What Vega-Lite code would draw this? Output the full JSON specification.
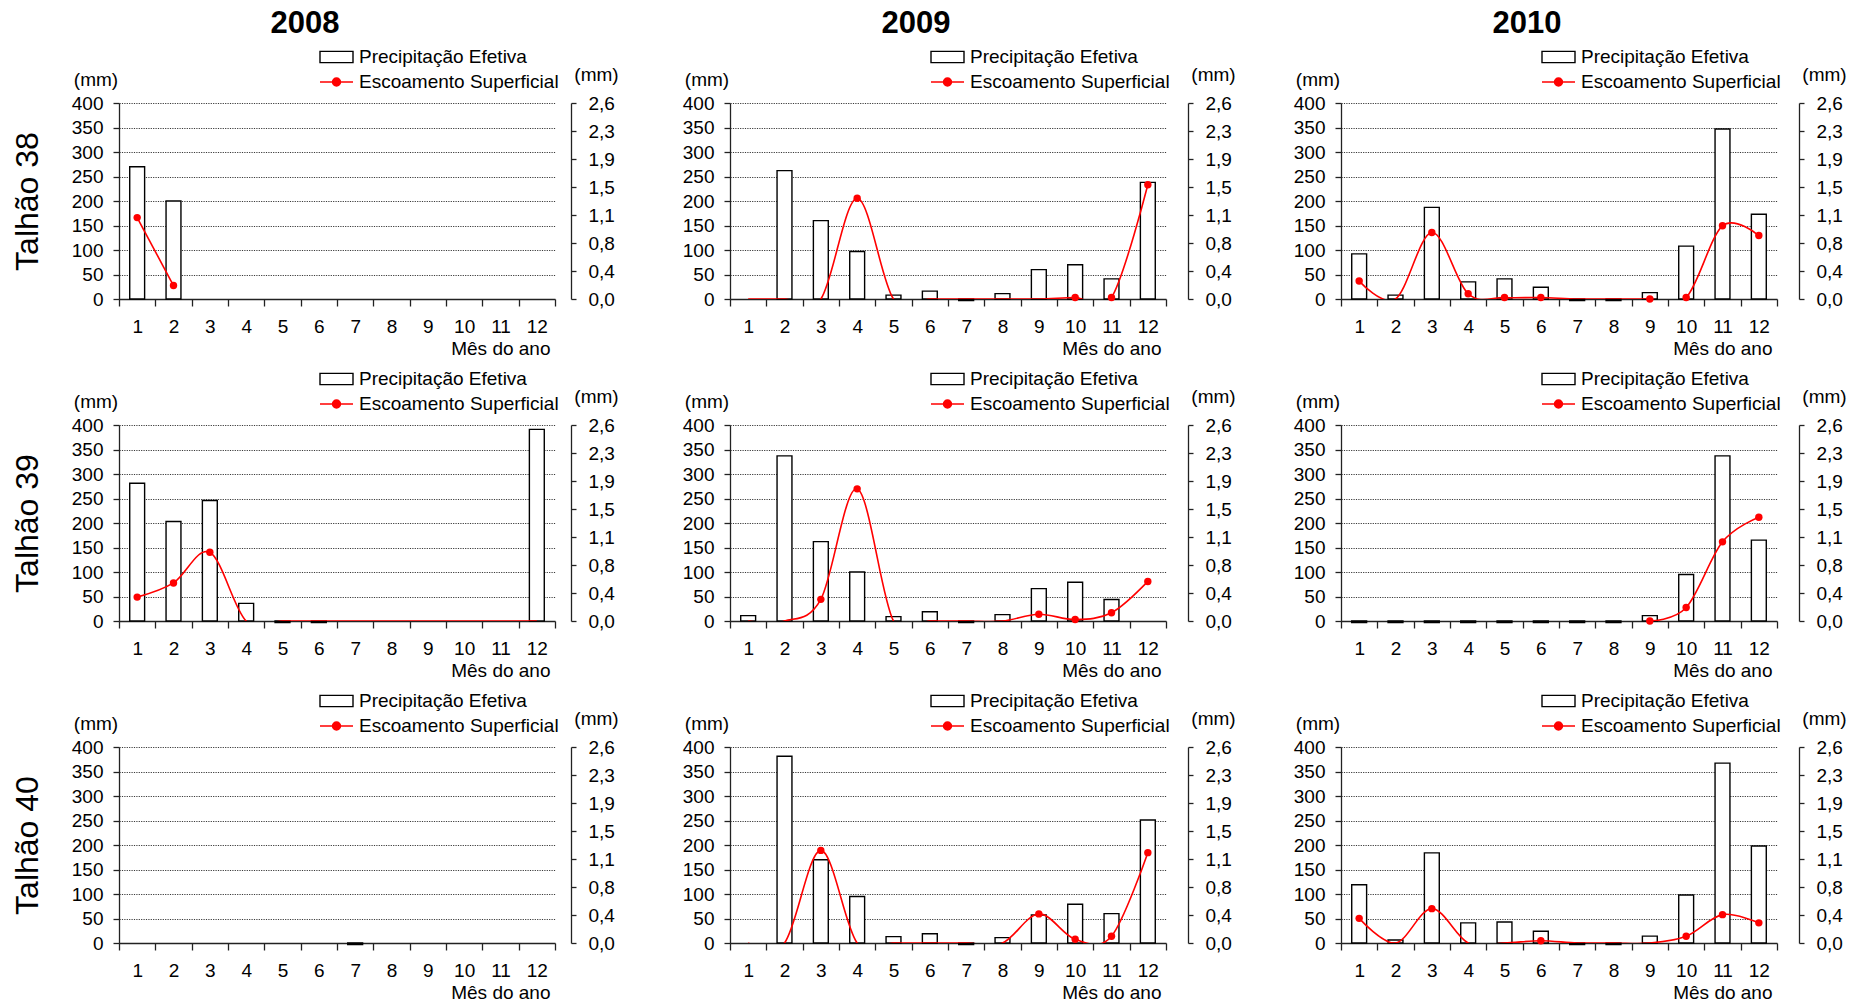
{
  "$schema": "https://vega.github.io/schema/vega-lite/v6.json",
  "background": "white",
  "padding": {"left": 10, "top": 7, "right": 5, "bottom": 5},
  "config": {
    "font": "Liberation Sans",
    "view": {"stroke": null},
    "axis": {
      "labelFontSize": 19, "titleFontSize": 19, "titleFontWeight": "normal",
      "labelColor": "black", "titleColor": "black",
      "domainColor": "#222", "tickColor": "#222", "domainWidth": 1.3, "tickWidth": 1.3,
      "grid": false, "gridDash": [1.2, 1.2], "gridColor": "#3a3a3a", "gridWidth": 1
    },
    "axisX": {
      "labelAngle": 0, "labelPadding": 11, "tickSize": 7, "tickBand": "extent",
      "titleAlign": "right", "titleBaseline": "middle", "titleX": 431, "titleY": 49
    },
    "axisLeft": {"tickSize": 6, "labelPadding": 10},
    "axisRight": {"tickSize": 5, "labelPadding": 12, "titleAlign": "center", "titleBaseline": "middle", "titleX": 25, "titleY": -29},
    "legend": {"padding": 0, "labelFontSize": 19, "labelColor": "black", "labelOffset": 5, "labelLimit": 400, "symbolSize": 1089}
  },
  "datasets": {
    "medicoes": [
      {"talhao": "Talhão 38", "ano": 2008, "mes": 1, "precip": 270, "esc": 1.09},
      {"talhao": "Talhão 38", "ano": 2008, "mes": 2, "precip": 200, "esc": 0.18},
      {"talhao": "Talhão 38", "ano": 2009, "mes": 1, "precip": null, "esc": 0},
      {"talhao": "Talhão 38", "ano": 2009, "mes": 2, "precip": 262, "esc": 0},
      {"talhao": "Talhão 38", "ano": 2009, "mes": 3, "precip": 160, "esc": 0},
      {"talhao": "Talhão 38", "ano": 2009, "mes": 4, "precip": 97, "esc": 1.35},
      {"talhao": "Talhão 38", "ano": 2009, "mes": 5, "precip": 8, "esc": 0},
      {"talhao": "Talhão 38", "ano": 2009, "mes": 6, "precip": 16, "esc": 0},
      {"talhao": "Talhão 38", "ano": 2009, "mes": 7, "precip": -3, "esc": 0},
      {"talhao": "Talhão 38", "ano": 2009, "mes": 8, "precip": 11, "esc": 0},
      {"talhao": "Talhão 38", "ano": 2009, "mes": 9, "precip": 60, "esc": 0},
      {"talhao": "Talhão 38", "ano": 2009, "mes": 10, "precip": 70, "esc": 0.02},
      {"talhao": "Talhão 38", "ano": 2009, "mes": 11, "precip": 41, "esc": 0.02},
      {"talhao": "Talhão 38", "ano": 2009, "mes": 12, "precip": 238, "esc": 1.53},
      {"talhao": "Talhão 38", "ano": 2010, "mes": 1, "precip": 92, "esc": 0.24},
      {"talhao": "Talhão 38", "ano": 2010, "mes": 2, "precip": 8, "esc": 0},
      {"talhao": "Talhão 38", "ano": 2010, "mes": 3, "precip": 187, "esc": 0.89},
      {"talhao": "Talhão 38", "ano": 2010, "mes": 4, "precip": 35, "esc": 0.07},
      {"talhao": "Talhão 38", "ano": 2010, "mes": 5, "precip": 41, "esc": 0.02},
      {"talhao": "Talhão 38", "ano": 2010, "mes": 6, "precip": 24, "esc": 0.02},
      {"talhao": "Talhão 38", "ano": 2010, "mes": 7, "precip": -3, "esc": 0},
      {"talhao": "Talhão 38", "ano": 2010, "mes": 8, "precip": -3, "esc": 0},
      {"talhao": "Talhão 38", "ano": 2010, "mes": 9, "precip": 13, "esc": 0},
      {"talhao": "Talhão 38", "ano": 2010, "mes": 10, "precip": 108, "esc": 0.02},
      {"talhao": "Talhão 38", "ano": 2010, "mes": 11, "precip": 347, "esc": 0.98},
      {"talhao": "Talhão 38", "ano": 2010, "mes": 12, "precip": 173, "esc": 0.85},
      {"talhao": "Talhão 39", "ano": 2008, "mes": 1, "precip": 281, "esc": 0.32},
      {"talhao": "Talhão 39", "ano": 2008, "mes": 2, "precip": 203, "esc": 0.51},
      {"talhao": "Talhão 39", "ano": 2008, "mes": 3, "precip": 246, "esc": 0.92},
      {"talhao": "Talhão 39", "ano": 2008, "mes": 4, "precip": 36, "esc": 0},
      {"talhao": "Talhão 39", "ano": 2008, "mes": 5, "precip": -3, "esc": 0},
      {"talhao": "Talhão 39", "ano": 2008, "mes": 6, "precip": -3, "esc": 0},
      {"talhao": "Talhão 39", "ano": 2008, "mes": 7, "precip": null, "esc": 0},
      {"talhao": "Talhão 39", "ano": 2008, "mes": 8, "precip": null, "esc": 0},
      {"talhao": "Talhão 39", "ano": 2008, "mes": 9, "precip": null, "esc": 0},
      {"talhao": "Talhão 39", "ano": 2008, "mes": 10, "precip": null, "esc": 0},
      {"talhao": "Talhão 39", "ano": 2008, "mes": 11, "precip": null, "esc": 0},
      {"talhao": "Talhão 39", "ano": 2008, "mes": 12, "precip": 391, "esc": 0},
      {"talhao": "Talhão 39", "ano": 2009, "mes": 1, "precip": 11, "esc": 0},
      {"talhao": "Talhão 39", "ano": 2009, "mes": 2, "precip": 337, "esc": 0},
      {"talhao": "Talhão 39", "ano": 2009, "mes": 3, "precip": 162, "esc": 0.29},
      {"talhao": "Talhão 39", "ano": 2009, "mes": 4, "precip": 100, "esc": 1.77},
      {"talhao": "Talhão 39", "ano": 2009, "mes": 5, "precip": 9, "esc": 0},
      {"talhao": "Talhão 39", "ano": 2009, "mes": 6, "precip": 19, "esc": 0},
      {"talhao": "Talhão 39", "ano": 2009, "mes": 7, "precip": -3, "esc": 0},
      {"talhao": "Talhão 39", "ano": 2009, "mes": 8, "precip": 13, "esc": 0},
      {"talhao": "Talhão 39", "ano": 2009, "mes": 9, "precip": 66, "esc": 0.09},
      {"talhao": "Talhão 39", "ano": 2009, "mes": 10, "precip": 79, "esc": 0.02},
      {"talhao": "Talhão 39", "ano": 2009, "mes": 11, "precip": 44, "esc": 0.11},
      {"talhao": "Talhão 39", "ano": 2009, "mes": 12, "precip": null, "esc": 0.53},
      {"talhao": "Talhão 39", "ano": 2010, "mes": 1, "precip": -3, "esc": null},
      {"talhao": "Talhão 39", "ano": 2010, "mes": 2, "precip": -3, "esc": null},
      {"talhao": "Talhão 39", "ano": 2010, "mes": 3, "precip": -3, "esc": null},
      {"talhao": "Talhão 39", "ano": 2010, "mes": 4, "precip": -3, "esc": null},
      {"talhao": "Talhão 39", "ano": 2010, "mes": 5, "precip": -3, "esc": null},
      {"talhao": "Talhão 39", "ano": 2010, "mes": 6, "precip": -3, "esc": null},
      {"talhao": "Talhão 39", "ano": 2010, "mes": 7, "precip": -3, "esc": null},
      {"talhao": "Talhão 39", "ano": 2010, "mes": 8, "precip": -3, "esc": null},
      {"talhao": "Talhão 39", "ano": 2010, "mes": 9, "precip": 11, "esc": 0},
      {"talhao": "Talhão 39", "ano": 2010, "mes": 10, "precip": 95, "esc": 0.18},
      {"talhao": "Talhão 39", "ano": 2010, "mes": 11, "precip": 337, "esc": 1.06},
      {"talhao": "Talhão 39", "ano": 2010, "mes": 12, "precip": 165, "esc": 1.39},
      {"talhao": "Talhão 40", "ano": 2008, "mes": 7, "precip": -3, "esc": null},
      {"talhao": "Talhão 40", "ano": 2009, "mes": 1, "precip": null, "esc": 0},
      {"talhao": "Talhão 40", "ano": 2009, "mes": 2, "precip": 381, "esc": 0},
      {"talhao": "Talhão 40", "ano": 2009, "mes": 3, "precip": 170, "esc": 1.24},
      {"talhao": "Talhão 40", "ano": 2009, "mes": 4, "precip": 95, "esc": 0},
      {"talhao": "Talhão 40", "ano": 2009, "mes": 5, "precip": 13, "esc": 0},
      {"talhao": "Talhão 40", "ano": 2009, "mes": 6, "precip": 19, "esc": 0},
      {"talhao": "Talhão 40", "ano": 2009, "mes": 7, "precip": -3, "esc": 0},
      {"talhao": "Talhão 40", "ano": 2009, "mes": 8, "precip": 11, "esc": 0},
      {"talhao": "Talhão 40", "ano": 2009, "mes": 9, "precip": 57, "esc": 0.39},
      {"talhao": "Talhão 40", "ano": 2009, "mes": 10, "precip": 79, "esc": 0.05},
      {"talhao": "Talhão 40", "ano": 2009, "mes": 11, "precip": 60, "esc": 0.09},
      {"talhao": "Talhão 40", "ano": 2009, "mes": 12, "precip": 251, "esc": 1.21},
      {"talhao": "Talhão 40", "ano": 2010, "mes": 1, "precip": 119, "esc": 0.33},
      {"talhao": "Talhão 40", "ano": 2010, "mes": 2, "precip": 6, "esc": 0},
      {"talhao": "Talhão 40", "ano": 2010, "mes": 3, "precip": 184, "esc": 0.46},
      {"talhao": "Talhão 40", "ano": 2010, "mes": 4, "precip": 41, "esc": 0},
      {"talhao": "Talhão 40", "ano": 2010, "mes": 5, "precip": 43, "esc": 0},
      {"talhao": "Talhão 40", "ano": 2010, "mes": 6, "precip": 24, "esc": 0.03},
      {"talhao": "Talhão 40", "ano": 2010, "mes": 7, "precip": -3, "esc": 0},
      {"talhao": "Talhão 40", "ano": 2010, "mes": 8, "precip": -3, "esc": 0},
      {"talhao": "Talhão 40", "ano": 2010, "mes": 9, "precip": 14, "esc": 0},
      {"talhao": "Talhão 40", "ano": 2010, "mes": 10, "precip": 98, "esc": 0.09},
      {"talhao": "Talhão 40", "ano": 2010, "mes": 11, "precip": 367, "esc": 0.38},
      {"talhao": "Talhão 40", "ano": 2010, "mes": 12, "precip": 198, "esc": 0.27}
    ],
    "pontos": [
      {"talhao": "Talhão 38", "ano": 2008, "mes": 1, "esc": 1.09},
      {"talhao": "Talhão 38", "ano": 2008, "mes": 2, "esc": 0.18},
      {"talhao": "Talhão 38", "ano": 2009, "mes": 4, "esc": 1.35},
      {"talhao": "Talhão 38", "ano": 2009, "mes": 10, "esc": 0.02},
      {"talhao": "Talhão 38", "ano": 2009, "mes": 11, "esc": 0.02},
      {"talhao": "Talhão 38", "ano": 2009, "mes": 12, "esc": 1.53},
      {"talhao": "Talhão 38", "ano": 2010, "mes": 1, "esc": 0.24},
      {"talhao": "Talhão 38", "ano": 2010, "mes": 3, "esc": 0.89},
      {"talhao": "Talhão 38", "ano": 2010, "mes": 4, "esc": 0.07},
      {"talhao": "Talhão 38", "ano": 2010, "mes": 5, "esc": 0.02},
      {"talhao": "Talhão 38", "ano": 2010, "mes": 6, "esc": 0.02},
      {"talhao": "Talhão 38", "ano": 2010, "mes": 9, "esc": 0},
      {"talhao": "Talhão 38", "ano": 2010, "mes": 10, "esc": 0.02},
      {"talhao": "Talhão 38", "ano": 2010, "mes": 11, "esc": 0.98},
      {"talhao": "Talhão 38", "ano": 2010, "mes": 12, "esc": 0.85},
      {"talhao": "Talhão 39", "ano": 2008, "mes": 1, "esc": 0.32},
      {"talhao": "Talhão 39", "ano": 2008, "mes": 2, "esc": 0.51},
      {"talhao": "Talhão 39", "ano": 2008, "mes": 3, "esc": 0.92},
      {"talhao": "Talhão 39", "ano": 2009, "mes": 3, "esc": 0.29},
      {"talhao": "Talhão 39", "ano": 2009, "mes": 4, "esc": 1.77},
      {"talhao": "Talhão 39", "ano": 2009, "mes": 9, "esc": 0.09},
      {"talhao": "Talhão 39", "ano": 2009, "mes": 10, "esc": 0.02},
      {"talhao": "Talhão 39", "ano": 2009, "mes": 11, "esc": 0.11},
      {"talhao": "Talhão 39", "ano": 2009, "mes": 12, "esc": 0.53},
      {"talhao": "Talhão 39", "ano": 2010, "mes": 9, "esc": 0},
      {"talhao": "Talhão 39", "ano": 2010, "mes": 10, "esc": 0.18},
      {"talhao": "Talhão 39", "ano": 2010, "mes": 11, "esc": 1.06},
      {"talhao": "Talhão 39", "ano": 2010, "mes": 12, "esc": 1.39},
      {"talhao": "Talhão 40", "ano": 2009, "mes": 3, "esc": 1.24},
      {"talhao": "Talhão 40", "ano": 2009, "mes": 9, "esc": 0.39},
      {"talhao": "Talhão 40", "ano": 2009, "mes": 10, "esc": 0.05},
      {"talhao": "Talhão 40", "ano": 2009, "mes": 11, "esc": 0.09},
      {"talhao": "Talhão 40", "ano": 2009, "mes": 12, "esc": 1.21},
      {"talhao": "Talhão 40", "ano": 2010, "mes": 1, "esc": 0.33},
      {"talhao": "Talhão 40", "ano": 2010, "mes": 3, "esc": 0.46},
      {"talhao": "Talhão 40", "ano": 2010, "mes": 6, "esc": 0.03},
      {"talhao": "Talhão 40", "ano": 2010, "mes": 10, "esc": 0.09},
      {"talhao": "Talhão 40", "ano": 2010, "mes": 11, "esc": 0.38},
      {"talhao": "Talhão 40", "ano": 2010, "mes": 12, "esc": 0.27}
    ]
  },
  "columns": 3,
  "bounds": "flush",
  "spacing": {"row": 126, "column": 175},
  "resolve": {
    "scale": {"stroke": "independent", "fill": "independent"},
    "legend": {"stroke": "independent", "fill": "independent"}
  },
  "concat": [
    {
      "width": 436, "height": 196,
      "title": {"text": "2008", "fontSize": 31, "fontWeight": "bold", "color": "black", "anchor": "middle", "frame": "group", "dx": -32, "offset": 0},
      "data": {"name": "medicoes"},
      "transform": [{"filter": "datum.talhao === 'Talhão 38' && datum.ano === 2008"}],
      "resolve": {"scale": {"y": "independent"}},
      "layer": [
        {
          "mark": {"type": "bar", "width": {"band": 0.41}, "fill": "white", "strokeWidth": 1.4},
          "encoding": {
            "x": {"field": "mes", "type": "ordinal", "scale": {"type": "band", "domain": [1,2,3,4,5,6,7,8,9,10,11,12], "paddingInner": 0, "paddingOuter": 0}, "axis": {"title": "Mês do ano"}},
            "y": {"field": "precip", "type": "quantitative", "scale": {"domain": [0, 400], "nice": false}, "axis": {"orient": "left", "title": "(mm)", "titleAngle": 0, "titleAlign": "center", "titleBaseline": "middle", "titleX": -23.5, "titleY": -24, "values": [0,50,100,150,200,250,300,350,400], "grid": true}},
            "stroke": {"datum": "Precipitação Efetiva", "scale": {"range": ["black"]}, "legend": {"title": null, "orient": "none", "legendX": 200, "legendY": -63.5, "symbolType": "M-1,-0.34H1V0.34H-1Z", "symbolStrokeWidth": 1.4, "symbolFillColor": "white"}}
          }
        },
        {
          "layer": [
            {
              "mark": {"type": "line", "color": "red", "strokeWidth": 1.6, "interpolate": "cardinal", "clip": true},
              "encoding": {
                "x": {"field": "mes", "type": "ordinal", "axis": {"title": "Mês do ano"}},
                "y": {"field": "esc", "type": "quantitative", "scale": {"domain": [0, 2.625], "nice": false}, "axis": {"orient": "right", "offset": 16, "title": "(mm)", "titleAngle": 0, "values": [0,0.375,0.75,1.125,1.5,1.875,2.25,2.625], "labelExpr": "replace(format(datum.value, '.1f'), '.', ',')"}}
              }
            },
            {
              "data": {"name": "pontos"},
              "transform": [{"filter": "datum.talhao === 'Talhão 38' && datum.ano === 2008"}],
              "mark": {"type": "point", "filled": true, "size": 55, "opacity": 1},
              "encoding": {
                "x": {"field": "mes", "type": "ordinal", "axis": {"title": "Mês do ano"}},
                "y": {"field": "esc", "type": "quantitative", "scale": {"domain": [0, 2.625], "nice": false}, "axis": {"orient": "right", "offset": 16, "title": "(mm)", "titleAngle": 0, "values": [0,0.375,0.75,1.125,1.5,1.875,2.25,2.625], "labelExpr": "replace(format(datum.value, '.1f'), '.', ',')"}},
                "fill": {"datum": "Escoamento Superficial", "scale": {"range": ["red"]}, "legend": {"title": null, "orient": "none", "legendX": 200, "legendY": -38.5, "symbolType": "M-1,0H1M-0.24,0A0.24,0.24,0,1,1,0.24,0A0.24,0.24,0,1,1,-0.24,0Z", "symbolStrokeColor": "red", "symbolStrokeWidth": 1.5}}
              }
            }
          ]
        },
        {
          "mark": {"type": "point", "opacity": 0},
          "encoding": {
            "x": {"field": "mes", "type": "ordinal", "axis": {"title": "Mês do ano"}},
            "y": {"field": "precip", "type": "quantitative", "scale": {"domain": [0, 400], "nice": false}, "axis": {"orient": "left", "title": "Talhão 38", "titleFontSize": 32, "titleAlign": "center", "titleBaseline": "middle", "titleX": -92, "titleY": 98, "labels": false, "ticks": false, "domain": false, "grid": false}}
          }
        }
      ]
    },
    {
      "width": 436, "height": 196,
      "title": {"text": "2009", "fontSize": 31, "fontWeight": "bold", "color": "black", "anchor": "middle", "frame": "group", "dx": -32, "offset": 0},
      "data": {"name": "medicoes"},
      "transform": [{"filter": "datum.talhao === 'Talhão 38' && datum.ano === 2009"}],
      "resolve": {"scale": {"y": "independent"}},
      "layer": [
        {
          "mark": {"type": "bar", "width": {"band": 0.41}, "fill": "white", "strokeWidth": 1.4},
          "encoding": {
            "x": {"field": "mes", "type": "ordinal", "scale": {"type": "band", "domain": [1,2,3,4,5,6,7,8,9,10,11,12], "paddingInner": 0, "paddingOuter": 0}, "axis": {"title": "Mês do ano"}},
            "y": {"field": "precip", "type": "quantitative", "scale": {"domain": [0, 400], "nice": false}, "axis": {"orient": "left", "title": "(mm)", "titleAngle": 0, "titleAlign": "center", "titleBaseline": "middle", "titleX": -23.5, "titleY": -24, "values": [0,50,100,150,200,250,300,350,400], "grid": true}},
            "stroke": {"datum": "Precipitação Efetiva", "scale": {"range": ["black"]}, "legend": {"title": null, "orient": "none", "legendX": 200, "legendY": -63.5, "symbolType": "M-1,-0.34H1V0.34H-1Z", "symbolStrokeWidth": 1.4, "symbolFillColor": "white"}}
          }
        },
        {
          "layer": [
            {
              "mark": {"type": "line", "color": "red", "strokeWidth": 1.6, "interpolate": "cardinal", "clip": true},
              "encoding": {
                "x": {"field": "mes", "type": "ordinal", "axis": {"title": "Mês do ano"}},
                "y": {"field": "esc", "type": "quantitative", "scale": {"domain": [0, 2.625], "nice": false}, "axis": {"orient": "right", "offset": 22, "title": "(mm)", "titleAngle": 0, "values": [0,0.375,0.75,1.125,1.5,1.875,2.25,2.625], "labelExpr": "replace(format(datum.value, '.1f'), '.', ',')"}}
              }
            },
            {
              "data": {"name": "pontos"},
              "transform": [{"filter": "datum.talhao === 'Talhão 38' && datum.ano === 2009"}],
              "mark": {"type": "point", "filled": true, "size": 55, "opacity": 1},
              "encoding": {
                "x": {"field": "mes", "type": "ordinal", "axis": {"title": "Mês do ano"}},
                "y": {"field": "esc", "type": "quantitative", "scale": {"domain": [0, 2.625], "nice": false}, "axis": {"orient": "right", "offset": 22, "title": "(mm)", "titleAngle": 0, "values": [0,0.375,0.75,1.125,1.5,1.875,2.25,2.625], "labelExpr": "replace(format(datum.value, '.1f'), '.', ',')"}},
                "fill": {"datum": "Escoamento Superficial", "scale": {"range": ["red"]}, "legend": {"title": null, "orient": "none", "legendX": 200, "legendY": -38.5, "symbolType": "M-1,0H1M-0.24,0A0.24,0.24,0,1,1,0.24,0A0.24,0.24,0,1,1,-0.24,0Z", "symbolStrokeColor": "red", "symbolStrokeWidth": 1.5}}
              }
            }
          ]
        }
      ]
    },
    {
      "width": 436, "height": 196,
      "title": {"text": "2010", "fontSize": 31, "fontWeight": "bold", "color": "black", "anchor": "middle", "frame": "group", "dx": -32, "offset": 0},
      "data": {"name": "medicoes"},
      "transform": [{"filter": "datum.talhao === 'Talhão 38' && datum.ano === 2010"}],
      "resolve": {"scale": {"y": "independent"}},
      "layer": [
        {
          "mark": {"type": "bar", "width": {"band": 0.41}, "fill": "white", "strokeWidth": 1.4},
          "encoding": {
            "x": {"field": "mes", "type": "ordinal", "scale": {"type": "band", "domain": [1,2,3,4,5,6,7,8,9,10,11,12], "paddingInner": 0, "paddingOuter": 0}, "axis": {"title": "Mês do ano"}},
            "y": {"field": "precip", "type": "quantitative", "scale": {"domain": [0, 400], "nice": false}, "axis": {"orient": "left", "title": "(mm)", "titleAngle": 0, "titleAlign": "center", "titleBaseline": "middle", "titleX": -23.5, "titleY": -24, "values": [0,50,100,150,200,250,300,350,400], "grid": true}},
            "stroke": {"datum": "Precipitação Efetiva", "scale": {"range": ["black"]}, "legend": {"title": null, "orient": "none", "legendX": 200, "legendY": -63.5, "symbolType": "M-1,-0.34H1V0.34H-1Z", "symbolStrokeWidth": 1.4, "symbolFillColor": "white"}}
          }
        },
        {
          "layer": [
            {
              "mark": {"type": "line", "color": "red", "strokeWidth": 1.6, "interpolate": "cardinal", "clip": true},
              "encoding": {
                "x": {"field": "mes", "type": "ordinal", "axis": {"title": "Mês do ano"}},
                "y": {"field": "esc", "type": "quantitative", "scale": {"domain": [0, 2.625], "nice": false}, "axis": {"orient": "right", "offset": 22, "title": "(mm)", "titleAngle": 0, "values": [0,0.375,0.75,1.125,1.5,1.875,2.25,2.625], "labelExpr": "replace(format(datum.value, '.1f'), '.', ',')"}}
              }
            },
            {
              "data": {"name": "pontos"},
              "transform": [{"filter": "datum.talhao === 'Talhão 38' && datum.ano === 2010"}],
              "mark": {"type": "point", "filled": true, "size": 55, "opacity": 1},
              "encoding": {
                "x": {"field": "mes", "type": "ordinal", "axis": {"title": "Mês do ano"}},
                "y": {"field": "esc", "type": "quantitative", "scale": {"domain": [0, 2.625], "nice": false}, "axis": {"orient": "right", "offset": 22, "title": "(mm)", "titleAngle": 0, "values": [0,0.375,0.75,1.125,1.5,1.875,2.25,2.625], "labelExpr": "replace(format(datum.value, '.1f'), '.', ',')"}},
                "fill": {"datum": "Escoamento Superficial", "scale": {"range": ["red"]}, "legend": {"title": null, "orient": "none", "legendX": 200, "legendY": -38.5, "symbolType": "M-1,0H1M-0.24,0A0.24,0.24,0,1,1,0.24,0A0.24,0.24,0,1,1,-0.24,0Z", "symbolStrokeColor": "red", "symbolStrokeWidth": 1.5}}
              }
            }
          ]
        }
      ]
    },
    {
      "width": 436, "height": 196,
      "data": {"name": "medicoes"},
      "transform": [{"filter": "datum.talhao === 'Talhão 39' && datum.ano === 2008"}],
      "resolve": {"scale": {"y": "independent"}},
      "layer": [
        {
          "mark": {"type": "bar", "width": {"band": 0.41}, "fill": "white", "strokeWidth": 1.4},
          "encoding": {
            "x": {"field": "mes", "type": "ordinal", "scale": {"type": "band", "domain": [1,2,3,4,5,6,7,8,9,10,11,12], "paddingInner": 0, "paddingOuter": 0}, "axis": {"title": "Mês do ano"}},
            "y": {"field": "precip", "type": "quantitative", "scale": {"domain": [0, 400], "nice": false}, "axis": {"orient": "left", "title": "(mm)", "titleAngle": 0, "titleAlign": "center", "titleBaseline": "middle", "titleX": -23.5, "titleY": -24, "values": [0,50,100,150,200,250,300,350,400], "grid": true}},
            "stroke": {"datum": "Precipitação Efetiva", "scale": {"range": ["black"]}, "legend": {"title": null, "orient": "none", "legendX": 200, "legendY": -63.5, "symbolType": "M-1,-0.34H1V0.34H-1Z", "symbolStrokeWidth": 1.4, "symbolFillColor": "white"}}
          }
        },
        {
          "layer": [
            {
              "mark": {"type": "line", "color": "red", "strokeWidth": 1.6, "interpolate": "cardinal", "clip": true},
              "encoding": {
                "x": {"field": "mes", "type": "ordinal", "axis": {"title": "Mês do ano"}},
                "y": {"field": "esc", "type": "quantitative", "scale": {"domain": [0, 2.625], "nice": false}, "axis": {"orient": "right", "offset": 16, "title": "(mm)", "titleAngle": 0, "values": [0,0.375,0.75,1.125,1.5,1.875,2.25,2.625], "labelExpr": "replace(format(datum.value, '.1f'), '.', ',')"}}
              }
            },
            {
              "data": {"name": "pontos"},
              "transform": [{"filter": "datum.talhao === 'Talhão 39' && datum.ano === 2008"}],
              "mark": {"type": "point", "filled": true, "size": 55, "opacity": 1},
              "encoding": {
                "x": {"field": "mes", "type": "ordinal", "axis": {"title": "Mês do ano"}},
                "y": {"field": "esc", "type": "quantitative", "scale": {"domain": [0, 2.625], "nice": false}, "axis": {"orient": "right", "offset": 16, "title": "(mm)", "titleAngle": 0, "values": [0,0.375,0.75,1.125,1.5,1.875,2.25,2.625], "labelExpr": "replace(format(datum.value, '.1f'), '.', ',')"}},
                "fill": {"datum": "Escoamento Superficial", "scale": {"range": ["red"]}, "legend": {"title": null, "orient": "none", "legendX": 200, "legendY": -38.5, "symbolType": "M-1,0H1M-0.24,0A0.24,0.24,0,1,1,0.24,0A0.24,0.24,0,1,1,-0.24,0Z", "symbolStrokeColor": "red", "symbolStrokeWidth": 1.5}}
              }
            }
          ]
        },
        {
          "mark": {"type": "point", "opacity": 0},
          "encoding": {
            "x": {"field": "mes", "type": "ordinal", "axis": {"title": "Mês do ano"}},
            "y": {"field": "precip", "type": "quantitative", "scale": {"domain": [0, 400], "nice": false}, "axis": {"orient": "left", "title": "Talhão 39", "titleFontSize": 32, "titleAlign": "center", "titleBaseline": "middle", "titleX": -92, "titleY": 98, "labels": false, "ticks": false, "domain": false, "grid": false}}
          }
        }
      ]
    },
    {
      "width": 436, "height": 196,
      "data": {"name": "medicoes"},
      "transform": [{"filter": "datum.talhao === 'Talhão 39' && datum.ano === 2009"}],
      "resolve": {"scale": {"y": "independent"}},
      "layer": [
        {
          "mark": {"type": "bar", "width": {"band": 0.41}, "fill": "white", "strokeWidth": 1.4},
          "encoding": {
            "x": {"field": "mes", "type": "ordinal", "scale": {"type": "band", "domain": [1,2,3,4,5,6,7,8,9,10,11,12], "paddingInner": 0, "paddingOuter": 0}, "axis": {"title": "Mês do ano"}},
            "y": {"field": "precip", "type": "quantitative", "scale": {"domain": [0, 400], "nice": false}, "axis": {"orient": "left", "title": "(mm)", "titleAngle": 0, "titleAlign": "center", "titleBaseline": "middle", "titleX": -23.5, "titleY": -24, "values": [0,50,100,150,200,250,300,350,400], "grid": true}},
            "stroke": {"datum": "Precipitação Efetiva", "scale": {"range": ["black"]}, "legend": {"title": null, "orient": "none", "legendX": 200, "legendY": -63.5, "symbolType": "M-1,-0.34H1V0.34H-1Z", "symbolStrokeWidth": 1.4, "symbolFillColor": "white"}}
          }
        },
        {
          "layer": [
            {
              "mark": {"type": "line", "color": "red", "strokeWidth": 1.6, "interpolate": "cardinal", "clip": true},
              "encoding": {
                "x": {"field": "mes", "type": "ordinal", "axis": {"title": "Mês do ano"}},
                "y": {"field": "esc", "type": "quantitative", "scale": {"domain": [0, 2.625], "nice": false}, "axis": {"orient": "right", "offset": 22, "title": "(mm)", "titleAngle": 0, "values": [0,0.375,0.75,1.125,1.5,1.875,2.25,2.625], "labelExpr": "replace(format(datum.value, '.1f'), '.', ',')"}}
              }
            },
            {
              "data": {"name": "pontos"},
              "transform": [{"filter": "datum.talhao === 'Talhão 39' && datum.ano === 2009"}],
              "mark": {"type": "point", "filled": true, "size": 55, "opacity": 1},
              "encoding": {
                "x": {"field": "mes", "type": "ordinal", "axis": {"title": "Mês do ano"}},
                "y": {"field": "esc", "type": "quantitative", "scale": {"domain": [0, 2.625], "nice": false}, "axis": {"orient": "right", "offset": 22, "title": "(mm)", "titleAngle": 0, "values": [0,0.375,0.75,1.125,1.5,1.875,2.25,2.625], "labelExpr": "replace(format(datum.value, '.1f'), '.', ',')"}},
                "fill": {"datum": "Escoamento Superficial", "scale": {"range": ["red"]}, "legend": {"title": null, "orient": "none", "legendX": 200, "legendY": -38.5, "symbolType": "M-1,0H1M-0.24,0A0.24,0.24,0,1,1,0.24,0A0.24,0.24,0,1,1,-0.24,0Z", "symbolStrokeColor": "red", "symbolStrokeWidth": 1.5}}
              }
            }
          ]
        }
      ]
    },
    {
      "width": 436, "height": 196,
      "data": {"name": "medicoes"},
      "transform": [{"filter": "datum.talhao === 'Talhão 39' && datum.ano === 2010"}],
      "resolve": {"scale": {"y": "independent"}},
      "layer": [
        {
          "mark": {"type": "bar", "width": {"band": 0.41}, "fill": "white", "strokeWidth": 1.4},
          "encoding": {
            "x": {"field": "mes", "type": "ordinal", "scale": {"type": "band", "domain": [1,2,3,4,5,6,7,8,9,10,11,12], "paddingInner": 0, "paddingOuter": 0}, "axis": {"title": "Mês do ano"}},
            "y": {"field": "precip", "type": "quantitative", "scale": {"domain": [0, 400], "nice": false}, "axis": {"orient": "left", "title": "(mm)", "titleAngle": 0, "titleAlign": "center", "titleBaseline": "middle", "titleX": -23.5, "titleY": -24, "values": [0,50,100,150,200,250,300,350,400], "grid": true}},
            "stroke": {"datum": "Precipitação Efetiva", "scale": {"range": ["black"]}, "legend": {"title": null, "orient": "none", "legendX": 200, "legendY": -63.5, "symbolType": "M-1,-0.34H1V0.34H-1Z", "symbolStrokeWidth": 1.4, "symbolFillColor": "white"}}
          }
        },
        {
          "layer": [
            {
              "mark": {"type": "line", "color": "red", "strokeWidth": 1.6, "interpolate": "cardinal", "clip": true},
              "encoding": {
                "x": {"field": "mes", "type": "ordinal", "axis": {"title": "Mês do ano"}},
                "y": {"field": "esc", "type": "quantitative", "scale": {"domain": [0, 2.625], "nice": false}, "axis": {"orient": "right", "offset": 22, "title": "(mm)", "titleAngle": 0, "values": [0,0.375,0.75,1.125,1.5,1.875,2.25,2.625], "labelExpr": "replace(format(datum.value, '.1f'), '.', ',')"}}
              }
            },
            {
              "data": {"name": "pontos"},
              "transform": [{"filter": "datum.talhao === 'Talhão 39' && datum.ano === 2010"}],
              "mark": {"type": "point", "filled": true, "size": 55, "opacity": 1},
              "encoding": {
                "x": {"field": "mes", "type": "ordinal", "axis": {"title": "Mês do ano"}},
                "y": {"field": "esc", "type": "quantitative", "scale": {"domain": [0, 2.625], "nice": false}, "axis": {"orient": "right", "offset": 22, "title": "(mm)", "titleAngle": 0, "values": [0,0.375,0.75,1.125,1.5,1.875,2.25,2.625], "labelExpr": "replace(format(datum.value, '.1f'), '.', ',')"}},
                "fill": {"datum": "Escoamento Superficial", "scale": {"range": ["red"]}, "legend": {"title": null, "orient": "none", "legendX": 200, "legendY": -38.5, "symbolType": "M-1,0H1M-0.24,0A0.24,0.24,0,1,1,0.24,0A0.24,0.24,0,1,1,-0.24,0Z", "symbolStrokeColor": "red", "symbolStrokeWidth": 1.5}}
              }
            }
          ]
        }
      ]
    },
    {
      "width": 436, "height": 196,
      "data": {"name": "medicoes"},
      "transform": [{"filter": "datum.talhao === 'Talhão 40' && datum.ano === 2008"}],
      "resolve": {"scale": {"y": "independent"}},
      "layer": [
        {
          "mark": {"type": "bar", "width": {"band": 0.41}, "fill": "white", "strokeWidth": 1.4},
          "encoding": {
            "x": {"field": "mes", "type": "ordinal", "scale": {"type": "band", "domain": [1,2,3,4,5,6,7,8,9,10,11,12], "paddingInner": 0, "paddingOuter": 0}, "axis": {"title": "Mês do ano"}},
            "y": {"field": "precip", "type": "quantitative", "scale": {"domain": [0, 400], "nice": false}, "axis": {"orient": "left", "title": "(mm)", "titleAngle": 0, "titleAlign": "center", "titleBaseline": "middle", "titleX": -23.5, "titleY": -24, "values": [0,50,100,150,200,250,300,350,400], "grid": true}},
            "stroke": {"datum": "Precipitação Efetiva", "scale": {"range": ["black"]}, "legend": {"title": null, "orient": "none", "legendX": 200, "legendY": -63.5, "symbolType": "M-1,-0.34H1V0.34H-1Z", "symbolStrokeWidth": 1.4, "symbolFillColor": "white"}}
          }
        },
        {
          "layer": [
            {
              "mark": {"type": "line", "color": "red", "strokeWidth": 1.6, "interpolate": "cardinal", "clip": true},
              "encoding": {
                "x": {"field": "mes", "type": "ordinal", "axis": {"title": "Mês do ano"}},
                "y": {"field": "esc", "type": "quantitative", "scale": {"domain": [0, 2.625], "nice": false}, "axis": {"orient": "right", "offset": 16, "title": "(mm)", "titleAngle": 0, "values": [0,0.375,0.75,1.125,1.5,1.875,2.25,2.625], "labelExpr": "replace(format(datum.value, '.1f'), '.', ',')"}}
              }
            },
            {
              "data": {"name": "pontos"},
              "transform": [{"filter": "datum.talhao === 'Talhão 40' && datum.ano === 2008"}],
              "mark": {"type": "point", "filled": true, "size": 55, "opacity": 1},
              "encoding": {
                "x": {"field": "mes", "type": "ordinal", "axis": {"title": "Mês do ano"}},
                "y": {"field": "esc", "type": "quantitative", "scale": {"domain": [0, 2.625], "nice": false}, "axis": {"orient": "right", "offset": 16, "title": "(mm)", "titleAngle": 0, "values": [0,0.375,0.75,1.125,1.5,1.875,2.25,2.625], "labelExpr": "replace(format(datum.value, '.1f'), '.', ',')"}},
                "fill": {"datum": "Escoamento Superficial", "scale": {"range": ["red"]}, "legend": {"title": null, "orient": "none", "legendX": 200, "legendY": -38.5, "symbolType": "M-1,0H1M-0.24,0A0.24,0.24,0,1,1,0.24,0A0.24,0.24,0,1,1,-0.24,0Z", "symbolStrokeColor": "red", "symbolStrokeWidth": 1.5}}
              }
            }
          ]
        },
        {
          "mark": {"type": "point", "opacity": 0},
          "encoding": {
            "x": {"field": "mes", "type": "ordinal", "axis": {"title": "Mês do ano"}},
            "y": {"field": "precip", "type": "quantitative", "scale": {"domain": [0, 400], "nice": false}, "axis": {"orient": "left", "title": "Talhão 40", "titleFontSize": 32, "titleAlign": "center", "titleBaseline": "middle", "titleX": -92, "titleY": 98, "labels": false, "ticks": false, "domain": false, "grid": false}}
          }
        }
      ]
    },
    {
      "width": 436, "height": 196,
      "data": {"name": "medicoes"},
      "transform": [{"filter": "datum.talhao === 'Talhão 40' && datum.ano === 2009"}],
      "resolve": {"scale": {"y": "independent"}},
      "layer": [
        {
          "mark": {"type": "bar", "width": {"band": 0.41}, "fill": "white", "strokeWidth": 1.4},
          "encoding": {
            "x": {"field": "mes", "type": "ordinal", "scale": {"type": "band", "domain": [1,2,3,4,5,6,7,8,9,10,11,12], "paddingInner": 0, "paddingOuter": 0}, "axis": {"title": "Mês do ano"}},
            "y": {"field": "precip", "type": "quantitative", "scale": {"domain": [0, 400], "nice": false}, "axis": {"orient": "left", "title": "(mm)", "titleAngle": 0, "titleAlign": "center", "titleBaseline": "middle", "titleX": -23.5, "titleY": -24, "values": [0,50,100,150,200,250,300,350,400], "grid": true}},
            "stroke": {"datum": "Precipitação Efetiva", "scale": {"range": ["black"]}, "legend": {"title": null, "orient": "none", "legendX": 200, "legendY": -63.5, "symbolType": "M-1,-0.34H1V0.34H-1Z", "symbolStrokeWidth": 1.4, "symbolFillColor": "white"}}
          }
        },
        {
          "layer": [
            {
              "mark": {"type": "line", "color": "red", "strokeWidth": 1.6, "interpolate": "cardinal", "clip": true},
              "encoding": {
                "x": {"field": "mes", "type": "ordinal", "axis": {"title": "Mês do ano"}},
                "y": {"field": "esc", "type": "quantitative", "scale": {"domain": [0, 2.625], "nice": false}, "axis": {"orient": "right", "offset": 22, "title": "(mm)", "titleAngle": 0, "values": [0,0.375,0.75,1.125,1.5,1.875,2.25,2.625], "labelExpr": "replace(format(datum.value, '.1f'), '.', ',')"}}
              }
            },
            {
              "data": {"name": "pontos"},
              "transform": [{"filter": "datum.talhao === 'Talhão 40' && datum.ano === 2009"}],
              "mark": {"type": "point", "filled": true, "size": 55, "opacity": 1},
              "encoding": {
                "x": {"field": "mes", "type": "ordinal", "axis": {"title": "Mês do ano"}},
                "y": {"field": "esc", "type": "quantitative", "scale": {"domain": [0, 2.625], "nice": false}, "axis": {"orient": "right", "offset": 22, "title": "(mm)", "titleAngle": 0, "values": [0,0.375,0.75,1.125,1.5,1.875,2.25,2.625], "labelExpr": "replace(format(datum.value, '.1f'), '.', ',')"}},
                "fill": {"datum": "Escoamento Superficial", "scale": {"range": ["red"]}, "legend": {"title": null, "orient": "none", "legendX": 200, "legendY": -38.5, "symbolType": "M-1,0H1M-0.24,0A0.24,0.24,0,1,1,0.24,0A0.24,0.24,0,1,1,-0.24,0Z", "symbolStrokeColor": "red", "symbolStrokeWidth": 1.5}}
              }
            }
          ]
        }
      ]
    },
    {
      "width": 436, "height": 196,
      "data": {"name": "medicoes"},
      "transform": [{"filter": "datum.talhao === 'Talhão 40' && datum.ano === 2010"}],
      "resolve": {"scale": {"y": "independent"}},
      "layer": [
        {
          "mark": {"type": "bar", "width": {"band": 0.41}, "fill": "white", "strokeWidth": 1.4},
          "encoding": {
            "x": {"field": "mes", "type": "ordinal", "scale": {"type": "band", "domain": [1,2,3,4,5,6,7,8,9,10,11,12], "paddingInner": 0, "paddingOuter": 0}, "axis": {"title": "Mês do ano"}},
            "y": {"field": "precip", "type": "quantitative", "scale": {"domain": [0, 400], "nice": false}, "axis": {"orient": "left", "title": "(mm)", "titleAngle": 0, "titleAlign": "center", "titleBaseline": "middle", "titleX": -23.5, "titleY": -24, "values": [0,50,100,150,200,250,300,350,400], "grid": true}},
            "stroke": {"datum": "Precipitação Efetiva", "scale": {"range": ["black"]}, "legend": {"title": null, "orient": "none", "legendX": 200, "legendY": -63.5, "symbolType": "M-1,-0.34H1V0.34H-1Z", "symbolStrokeWidth": 1.4, "symbolFillColor": "white"}}
          }
        },
        {
          "layer": [
            {
              "mark": {"type": "line", "color": "red", "strokeWidth": 1.6, "interpolate": "cardinal", "clip": true},
              "encoding": {
                "x": {"field": "mes", "type": "ordinal", "axis": {"title": "Mês do ano"}},
                "y": {"field": "esc", "type": "quantitative", "scale": {"domain": [0, 2.625], "nice": false}, "axis": {"orient": "right", "offset": 22, "title": "(mm)", "titleAngle": 0, "values": [0,0.375,0.75,1.125,1.5,1.875,2.25,2.625], "labelExpr": "replace(format(datum.value, '.1f'), '.', ',')"}}
              }
            },
            {
              "data": {"name": "pontos"},
              "transform": [{"filter": "datum.talhao === 'Talhão 40' && datum.ano === 2010"}],
              "mark": {"type": "point", "filled": true, "size": 55, "opacity": 1},
              "encoding": {
                "x": {"field": "mes", "type": "ordinal", "axis": {"title": "Mês do ano"}},
                "y": {"field": "esc", "type": "quantitative", "scale": {"domain": [0, 2.625], "nice": false}, "axis": {"orient": "right", "offset": 22, "title": "(mm)", "titleAngle": 0, "values": [0,0.375,0.75,1.125,1.5,1.875,2.25,2.625], "labelExpr": "replace(format(datum.value, '.1f'), '.', ',')"}},
                "fill": {"datum": "Escoamento Superficial", "scale": {"range": ["red"]}, "legend": {"title": null, "orient": "none", "legendX": 200, "legendY": -38.5, "symbolType": "M-1,0H1M-0.24,0A0.24,0.24,0,1,1,0.24,0A0.24,0.24,0,1,1,-0.24,0Z", "symbolStrokeColor": "red", "symbolStrokeWidth": 1.5}}
              }
            }
          ]
        }
      ]
    }
  ]
}
